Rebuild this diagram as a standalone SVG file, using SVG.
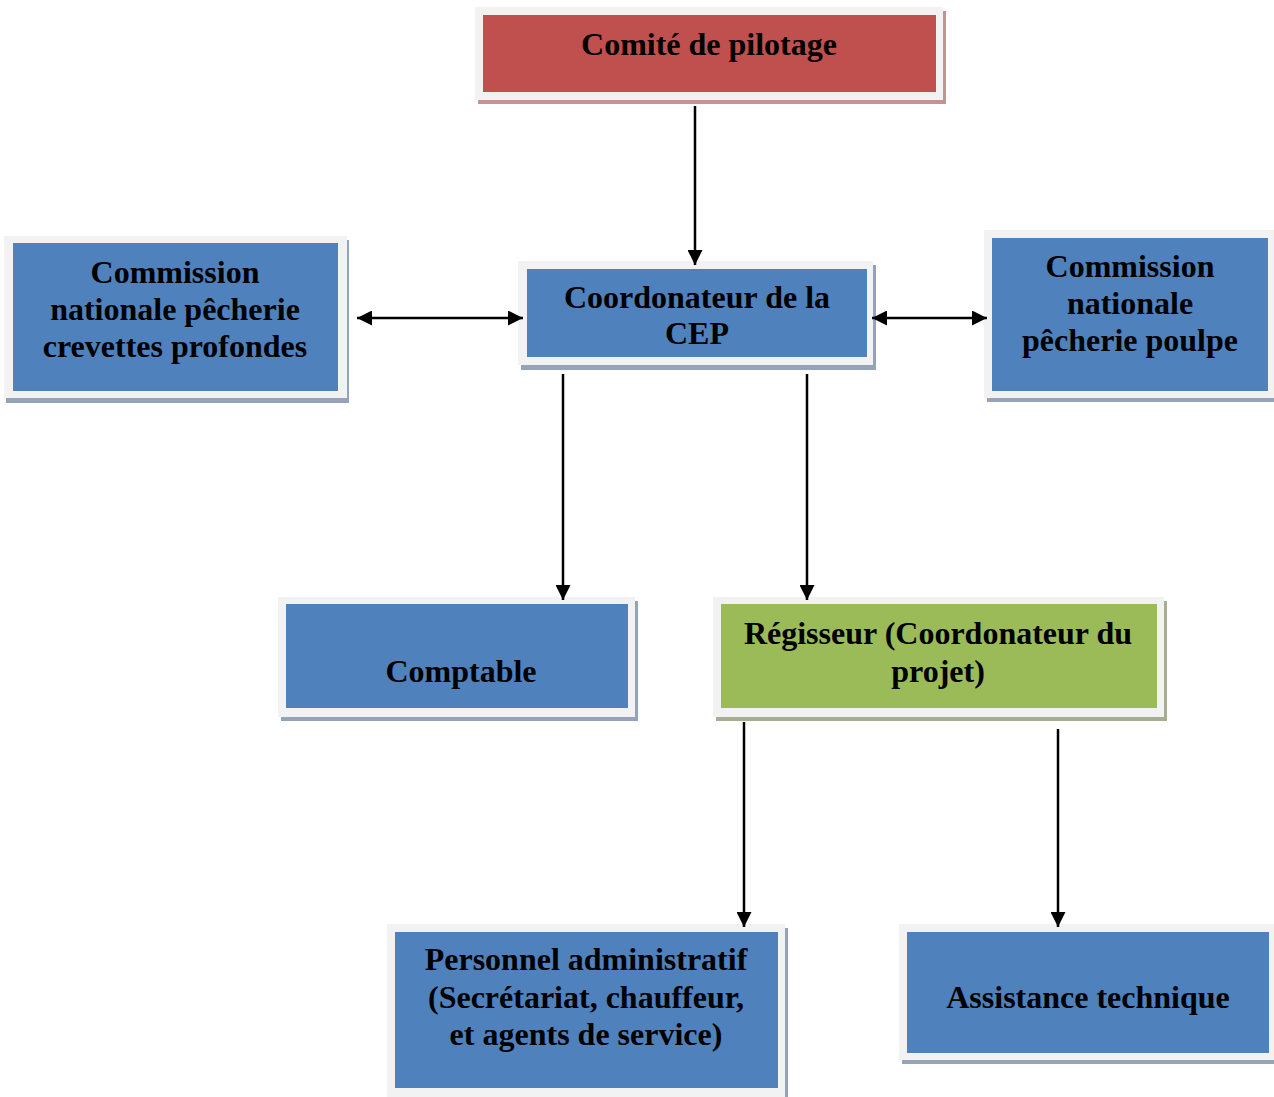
<svg xmlns="http://www.w3.org/2000/svg" width="1274" height="1097" viewBox="0 0 1274 1097">
<style>
.frame{fill:#f2f2f2}
.sh-b{fill:#95a3b9}
.sh-r{fill:#c39391}
.sh-g{fill:#a7ae8f}
.blue{fill:#4f81bd}
.red{fill:#c0504d}
.green{fill:#9bbb59}
text{font-family:"Liberation Serif","Times New Roman",serif;font-weight:bold;font-size:32px;fill:#000;text-anchor:middle}
.conn line{stroke:#000;stroke-width:2.5}
</style>
<defs>
<marker id="ah" viewBox="0 0 10 10" refX="10" refY="5" markerWidth="6" markerHeight="6" orient="auto-start-reverse" markerUnits="strokeWidth">
<path d="M0,0 L10,5 L0,10 z" fill="#000"/>
</marker>
</defs>
<rect width="1274" height="1097" fill="#fff"/>

<g id="comite">
<rect class="sh-r" x="478" y="11" width="468" height="93"/>
<rect class="frame" x="475" y="7" width="468" height="93"/>
<rect class="red" x="483" y="15" width="453" height="77"/>
<text x="709" y="55">Comité de pilotage</text>
</g>

<g id="commission-crevettes">
<rect class="sh-b" x="6" y="240" width="343" height="163"/>
<rect class="frame" x="4" y="236" width="343" height="162"/>
<rect class="blue" x="13" y="243" width="325" height="148"/>
<text x="175" y="283">Commission</text>
<text x="175" y="320">nationale pêcherie</text>
<text x="175" y="357">crevettes profondes</text>
</g>

<g id="coordonateur">
<rect class="sh-b" x="521" y="265" width="355" height="105"/>
<rect class="frame" x="518" y="261" width="355" height="104"/>
<rect class="blue" x="527" y="269" width="340" height="88"/>
<text x="697" y="308">Coordonateur de la</text>
<text x="697" y="344">CEP</text>
</g>

<g id="commission-poulpe">
<rect class="sh-b" x="987" y="234" width="290" height="168"/>
<rect class="frame" x="984" y="230" width="290" height="168"/>
<rect class="blue" x="992" y="238" width="276" height="153"/>
<text x="1130" y="277">Commission</text>
<text x="1130" y="314">nationale</text>
<text x="1130" y="351">pêcherie poulpe</text>
</g>

<g id="comptable">
<rect class="sh-b" x="281" y="601" width="357" height="120"/>
<rect class="frame" x="278" y="597" width="357" height="120"/>
<rect class="blue" x="286" y="604" width="342" height="104"/>
<text x="461" y="682">Comptable</text>
</g>

<g id="regisseur">
<rect class="sh-g" x="716" y="601" width="451" height="120"/>
<rect class="frame" x="713" y="597" width="451" height="120"/>
<rect class="green" x="721" y="604" width="436" height="104"/>
<text x="938" y="644">Régisseur (Coordonateur du</text>
<text x="938" y="682">projet)</text>
</g>

<g id="personnel">
<rect class="sh-b" x="390" y="928" width="398" height="175"/>
<rect class="frame" x="387" y="924" width="398" height="175"/>
<rect class="blue" x="395" y="932" width="383" height="156"/>
<text x="586" y="970">Personnel administratif</text>
<text x="586" y="1008">(Secrétariat, chauffeur,</text>
<text x="586" y="1045">et agents de service)</text>
</g>

<g id="assistance">
<rect class="sh-b" x="902" y="928" width="375" height="136"/>
<rect class="frame" x="899" y="924" width="375" height="136"/>
<rect class="blue" x="907" y="932" width="362" height="121"/>
<text x="1088" y="1008">Assistance technique</text>
</g>

<g class="conn" id="connectors">
<line x1="695" y1="106" x2="695" y2="265" marker-end="url(#ah)"/>
<line x1="357" y1="318" x2="523" y2="318" marker-start="url(#ah)" marker-end="url(#ah)"/>
<line x1="872" y1="318" x2="987" y2="318" marker-start="url(#ah)" marker-end="url(#ah)"/>
<line x1="563" y1="374" x2="563" y2="600" marker-end="url(#ah)"/>
<line x1="807" y1="374" x2="807" y2="600" marker-end="url(#ah)"/>
<line x1="744" y1="722" x2="744" y2="927" marker-end="url(#ah)"/>
<line x1="1058" y1="729" x2="1058" y2="927" marker-end="url(#ah)"/>
</g>
</svg>
